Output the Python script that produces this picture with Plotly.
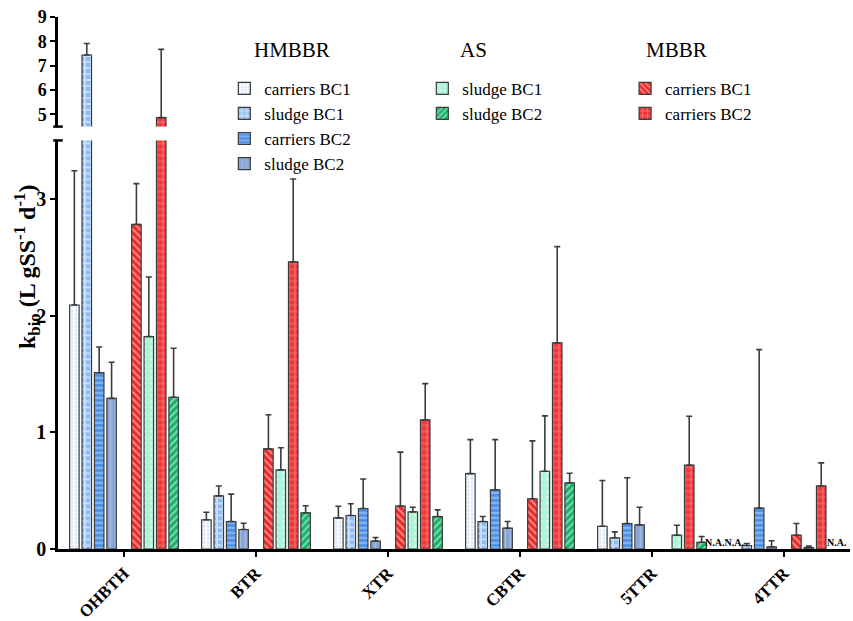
import plotly.graph_objects as go

groups = ["OHBTH", "BTR", "XTR", "CBTR", "5TTR", "4TTR"]

# values (None = not available)
hm_car1 = [2.09, 0.25, 0.267, 0.646, 0.195, None]
hm_car1_err = [3.24, 0.315, 0.366, 0.937, 0.587, None]
hm_sl1 = [7.44, 0.455, 0.287, 0.235, 0.096, 0.03]
hm_sl1_err = [7.91, 0.54, 0.387, 0.278, 0.147, 0.047]
hm_car2 = [1.51, 0.235, 0.347, 0.507, 0.218, 0.35]
hm_car2_err = [1.73, 0.47, 0.60, 0.937, 0.61, 1.708]
hm_sl2 = [1.29, 0.167, 0.067, 0.178, 0.207, 0.019]
hm_sl2_err = [1.60, 0.22, 0.098, 0.235, 0.358, 0.07]
mb_car1 = [2.78, 0.858, 0.367, 0.43, None, 0.118]
mb_car1_err = [3.13, 1.15, 0.83, 0.926, None, 0.218]
as_sl1 = [1.82, 0.678, 0.318, 0.666, 0.118, 0.012]
as_sl1_err = [2.33, 0.867, 0.358, 1.14, 0.204, 0.025]
mb_car2 = [4.87, 2.46, 1.106, 1.765, 0.718, 0.54]
mb_car2_err = [7.67, 3.17, 1.417, 2.59, 1.137, 0.738]
as_sl2 = [1.30, 0.31, 0.278, 0.567, 0.058, None]
as_sl2_err = [1.72, 0.37, 0.335, 0.649, 0.107, None]

FONT = "Liberation Serif, Times New Roman, serif"
SLOT = 0.094
BW = 0.072

series = [
    ("carriers BC1", hm_car1, hm_car1_err, -4, "legend",
     dict(shape=".", fgcolor="#a9c9f0", bgcolor="#ffffff", size=4, solidity=0.45)),
    ("sludge BC1", hm_sl1, hm_sl1_err, -3, "legend",
     dict(shape="+", fgcolor="#ffffff", bgcolor="#8cbcf3", size=6, solidity=0.55)),
    ("carriers BC2", hm_car2, hm_car2_err, -2, "legend",
     dict(shape="-", fgcolor="#ffffff", bgcolor="#4a8fe4", size=5, solidity=0.3)),
    ("sludge BC2", hm_sl2, hm_sl2_err, -1, "legend",
     dict(shape="|", fgcolor="#c4d4ee", bgcolor="#86a4d4", size=5, solidity=0.3)),
    ("carriers BC1", mb_car1, mb_car1_err, 1, "legend3",
     dict(shape="\\", fgcolor="#ffffff", bgcolor="#f02828", size=5, solidity=0.35)),
    ("sludge BC1", as_sl1, as_sl1_err, 2, "legend2",
     dict(shape=".", fgcolor="#ffffff", bgcolor="#aef3d8", size=6, solidity=0.2)),
    ("carriers BC2", mb_car2, mb_car2_err, 3, "legend3",
     dict(shape="+", fgcolor="#ffd0d0", bgcolor="#f03838", size=6, solidity=0.25)),
    ("sludge BC2", as_sl2, as_sl2_err, 4, "legend2",
     dict(shape="/", fgcolor="#ffffff", bgcolor="#17b36b", size=5, solidity=0.35)),
]

fig = go.Figure()
for yax in ["y", "y2"]:
    for name, vals, tops, slot, leg, pat in series:
        xs = [i + slot * SLOT for i in range(len(groups))]
        errs = [(t - v) if (v is not None and t is not None) else None for v, t in zip(vals, tops)]
        fig.add_trace(go.Bar(
            x=xs, y=vals, width=BW, name=name, legend=leg,
            yaxis=yax, showlegend=(yax == "y"),
            marker=dict(color=pat["bgcolor"], pattern=pat,
                        line=dict(color="#3a3a3a", width=1.2)),
            error_y=dict(type="data", array=errs, symmetric=False, arrayminus=[0] * len(vals),
                         color="#3c3c3c", thickness=1.6, width=3),
        ))

lowtop = 3.5
legend_common = dict(yanchor="top", xanchor="left", font=dict(size=17, family=FONT, color="black"),
                     bgcolor="rgba(0,0,0,0)", tracegroupgap=0, itemwidth=30)
fig.update_layout(
    width=853, height=621,
    margin=dict(l=58, r=3, t=17, b=72, autoexpand=False),
    barmode="overlay",
    plot_bgcolor="white", paper_bgcolor="white",
    font=dict(family=FONT, color="black"),
    xaxis=dict(range=[-0.5, 5.5], tickvals=list(range(len(groups))), ticktext=groups,
               tickangle=-45, tickfont=dict(size=17, family=FONT, weight="bold", color="black"),
               showline=True, linecolor="black", linewidth=2.5, automargin=False,
               ticks="outside", ticklen=5, tickwidth=2, tickcolor="black",
               showgrid=False, zeroline=False, anchor="y"),
    yaxis=dict(domain=[0, 0.768], range=[0, lowtop], tickvals=[0, 1, 2, 3],
               tickfont=dict(size=20, family=FONT, weight="bold", color="black"), automargin=False,
               showline=True, linecolor="black", linewidth=2.5,
               ticks="outside", ticklen=5, tickwidth=2, tickcolor="black",
               showgrid=False, zeroline=False),
    yaxis2=dict(domain=[0.794, 1.0], range=[4.5, 9], tickvals=[5, 6, 7, 8, 9],
                tickfont=dict(size=18, family=FONT, weight="bold", color="black"), automargin=False,
                showline=True, linecolor="black", linewidth=2.5,
                ticks="outside", ticklen=5, tickwidth=2, tickcolor="black",
                showgrid=False, zeroline=False, anchor="x"),
    legend=dict(x=0.21, y=0.899, **legend_common),
    legend2=dict(x=0.46, y=0.899, **legend_common),
    legend3=dict(x=0.716, y=0.899, **legend_common),
)

# axis break caps
for yref, yv in [("y domain", 1), ("y2 domain", 0)]:
    fig.add_shape(type="line", xref="paper", yref=yref, x0=-0.006, x1=0.006, y0=yv, y1=yv,
                  line=dict(color="black", width=2.5))

# legend titles
for txt, px in [("HMBBR", 292), ("AS", 473), ("MBBR", 676)]:
    fig.add_annotation(text=txt, x=(px - 58) / 792, y=(549 - 50) / 532, xref="paper", yref="paper",
                       showarrow=False, font=dict(size=21, family=FONT, color="black"),
                       xanchor="center", yanchor="middle")

# N.A. labels
fig.add_annotation(text="N.A.N.A.", x=4.549, y=0, xref="x", yref="y", showarrow=False,
                   yanchor="bottom", xanchor="center", yshift=-1,
                   font=dict(size=10, family=FONT, weight="bold", color="black"))
fig.add_annotation(text="N.A.", x=5.40, y=0, xref="x", yref="y", showarrow=False,
                   yanchor="bottom", xanchor="center", yshift=-1,
                   font=dict(size=10, family=FONT, weight="bold", color="black"))

# y-axis title
fig.add_annotation(text="k<sub>bio</sub>&nbsp;(L gSS<sup>-1</sup> d<sup>-1</sup>)",
                   x=(27 - 58) / 792, y=(549 - 267) / 532, xref="paper", yref="paper",
                   showarrow=False, textangle=-90,
                   font=dict(size=24, family=FONT, weight="bold", color="black"),
                   xanchor="center", yanchor="middle")

fig.write_html("out.html")
